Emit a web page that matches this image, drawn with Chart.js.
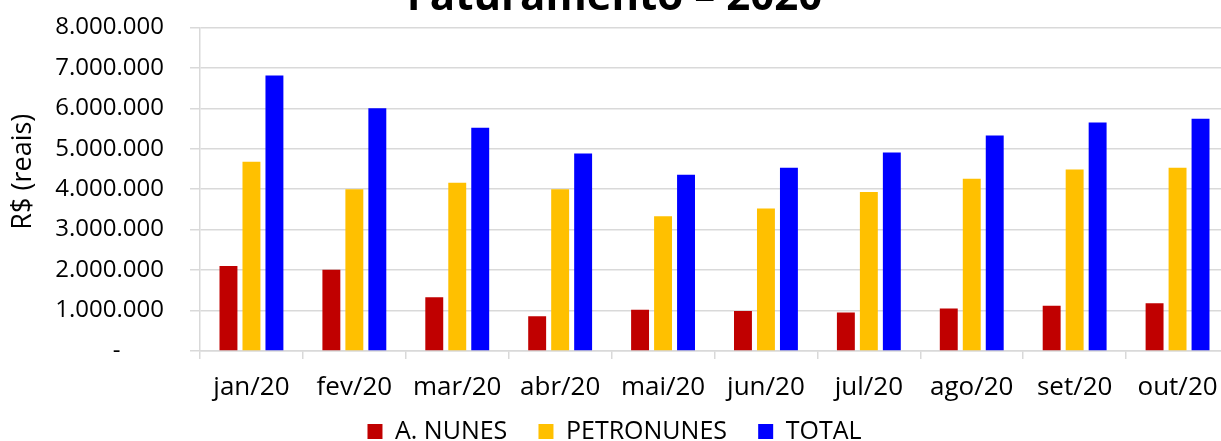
<!DOCTYPE html>
<html>
<head>
<meta charset="utf-8">
<script src="https://cdn.jsdelivr.net/npm/chart.js@4.4.0/dist/chart.umd.min.js"></script>
<style>
  html, body { margin: 0; padding: 0; width: 1221px; height: 441px; overflow: hidden; background: #ffffff; }
  #wrap { position: absolute; left: 0; top: -27px; width: 1240px; height: 481px; }
</style>
</head>
<body>
<div id="wrap"><canvas id="c"></canvas></div>
<script>
const categories = ['jan/20', 'fev/20', 'mar/20', 'abr/20', 'mai/20', 'jun/20', 'jul/20', 'ago/20', 'set/20', 'out/20'];
const aNunes     = [2100000, 2010000, 1330000, 860000, 1020000, 990000, 950000, 1050000, 1120000, 1180000];
const petronunes = [4680000, 4000000, 4160000, 4000000, 3330000, 3520000, 3930000, 4260000, 4490000, 4530000];
const total      = [6810000, 6000000, 5520000, 4880000, 4360000, 4530000, 4910000, 5330000, 5650000, 5740000];
const seriesNames = ['A. NUNES', 'PETRONUNES', 'TOTAL'];
const yTicks = [0, 1000000, 2000000, 3000000, 4000000, 5000000, 6000000, 7000000, 8000000];

function fmt(v) {
  if (v === 0) return '-       ';
  return String(Math.round(v)).replace(/\B(?=(\d{3})+(?!\d))/g, '.');
}

const grid = '#d9d9d9';
const defaultLabels = Chart.defaults.plugins.legend.labels.generateLabels;

new Chart(document.getElementById('c'), {
  type: 'bar',
  data: {
    labels: categories,
    datasets: [
      { label: seriesNames[0], data: aNunes, backgroundColor: '#C00000' },
      { label: seriesNames[1], data: petronunes, backgroundColor: '#FFC000' },
      { label: seriesNames[2], data: total, backgroundColor: '#0000FF' }
    ]
  },
  options: {
    responsive: true,
    maintainAspectRatio: false,
    animation: false,
    devicePixelRatio: 1,
    categoryPercentage: 0.67,
    barPercentage: 0.78,
    layout: { padding: { left: 0, right: 11, top: 0, bottom: 0 } },
    plugins: {
      title: {
        display: true,
        text: 'Faturamento – 2020',
        color: '#000000',
        font: { family: 'Open Sans', size: 42, weight: 'bold' },
        padding: { top: 0, bottom: 4 }
      },
      legend: {
        position: 'bottom',
        labels: {
          color: '#000000',
          font: { family: 'Open Sans', size: 25 },
          boxWidth: 15,
          boxHeight: 15,
          padding: 2,
          generateLabels: (chart) => {
            const items = defaultLabels(chart);
            items.forEach((it, i) => { if (i < items.length - 1) it.text = it.text + '\u2003\u2009'; });
            return items;
          }
        }
      },
      tooltip: { enabled: false }
    },
    scales: {
      x: {
        grid: { offset: true, drawOnChartArea: false, color: grid, tickLength: 8, lineWidth: 1.5 },
        border: { color: grid, width: 1.5 },
        ticks: { color: '#000000', font: { family: 'Open Sans', size: 26, lineHeight: 1.0 }, padding: 16, maxRotation: 0 }
      },
      y: {
        min: 0,
        max: 8000000,
        afterBuildTicks: (s) => { s.ticks = yTicks.map(v => ({ value: v })); },
        afterFit: (s) => { s.width = 200; },
        grid: { color: grid, tickLength: 10, lineWidth: 1.5 },
        border: { color: grid, width: 1.5 },
        ticks: { color: '#000000', font: { family: 'Open Sans', size: 24 }, padding: 26, callback: (v) => fmt(v) },
        title: {
          display: true,
          text: '     R$ (reais)',
          color: '#000000',
          font: { family: 'Open Sans', size: 27 },
          padding: { top: 7, bottom: 0 }
        }
      }
    }
  }
});
</script>
</body>
</html>
